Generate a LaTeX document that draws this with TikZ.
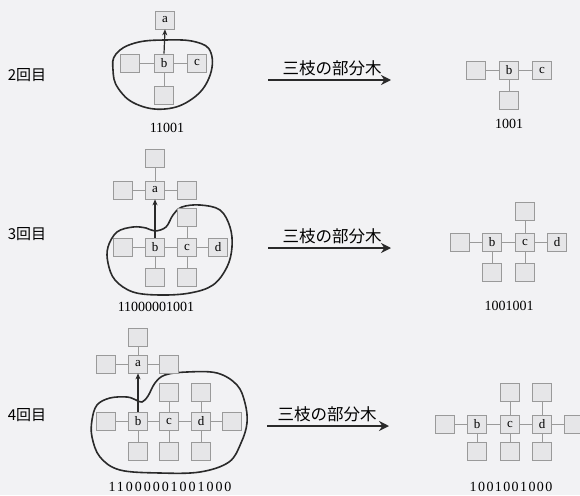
\documentclass[tikz,border=0pt]{standalone}
\usepackage{fontspec}
\setmainfont{Liberation Serif}
\newfontfamily\jpfont{Noto Sans CJK JP}
\usetikzlibrary{arrows.meta}
\definecolor{bgc}{HTML}{F2F2F4}
\definecolor{boxfill}{HTML}{E6E6E8}
\definecolor{boxline}{HTML}{9A9A9A}
\definecolor{inkc}{HTML}{2A2A2A}
\tikzset{
  cell/.style={draw=boxline, fill=boxfill, line width=0.6pt, minimum width=19pt, minimum height=18pt, inner sep=0pt, font=\fontsize{13}{13}\selectfont},
  link/.style={draw=boxline, line width=0.6pt},
  blob/.style={draw=inkc, line width=1.6pt},
  uparrow/.style={draw=inkc, line width=1.2pt, -{Stealth[length=6pt,width=5pt]}},
  bigarrow/.style={draw=inkc, line width=2.6pt, -{Stealth[length=10pt,width=10pt]}},
  code/.style={font=\fontsize{14}{14}\selectfont, inner sep=0pt},
  jp/.style={font=\jpfont\fontsize{16.5}{17}\selectfont, inner sep=0pt},
  rowlabel/.style={font=\jpfont\fontsize{15}{15}\selectfont, inner sep=0pt}
}
\begin{document}
\begin{tikzpicture}[x=1pt,y=-1pt]
\fill[bgc] (0,0) rectangle (580,495);
\useasboundingbox (0,0) rectangle (580,495);

% ---------------- Row 1 ----------------
\node[rowlabel] (l1) at (27,75) {2回目};
\draw[blob] plot[smooth cycle, tension=0.7] coordinates {(116,54) (135,43) (165,40) (196,42) (211,53) (209,78) (192,99) (165,109) (136,104) (118,88) (113,70)};
\node[cell] (r1a) at (165,20) {a};
\node[cell] (r1L) at (130,63) {};
\node[cell] (r1b) at (164,63) {b};
\node[cell] (r1c) at (197,63) {c};
\node[cell] (r1D) at (164,95) {};
\draw[link] (r1L) -- (r1b) (r1b) -- (r1c) (r1b) -- (r1D);
\draw[uparrow] (r1b.north) -- (r1a.south);
\node[code] (n1) at (167,128) {11001};

\node[jp] (t1) at (332,68) {三枝の部分木};
\coordinate (s1) at (268,80);
\coordinate (e1) at (391,80);
\draw[bigarrow] (s1) -- (e1);

\node[cell] (p1L) at (476,70) {};
\node[cell] (p1b) at (509,70) {b};
\node[cell] (p1c) at (542,70) {c};
\node[cell] (p1D) at (509,100) {};
\draw[link] (p1L) -- (p1b) (p1b) -- (p1c) (p1b) -- (p1D);
\node[code] (m1) at (509,124) {1001};

% ---------------- Row 2 ----------------
\node[rowlabel] (l2) at (27,234) {3回目};
\draw[blob] plot[smooth cycle, tension=0.6] coordinates {(108,247) (117,232) (133,227) (146,228) (155,231) (166,227) (173,215) (182,207) (200,205) (220,210) (230,227) (232,247) (227,267) (213,285) (190,293) (160,295) (133,292) (115,280) (108,263)};
\node[cell] (r2T) at (155,158) {};
\node[cell] (r2AL) at (123,190) {};
\node[cell] (r2a) at (155,190) {a};
\node[cell] (r2AR) at (187,190) {};
\node[cell] (r2L) at (123,247) {};
\node[cell] (r2b) at (155,247) {b};
\node[cell] (r2c) at (187,247) {c};
\node[cell] (r2d) at (218,247) {d};
\node[cell] (r2CU) at (187,217) {};
\node[cell] (r2BD) at (155,277) {};
\node[cell] (r2CD) at (187,277) {};
\draw[link] (r2T) -- (r2a) (r2AL) -- (r2a) (r2a) -- (r2AR);
\draw[link] (r2L) -- (r2b) (r2b) -- (r2c) (r2c) -- (r2d) (r2CU) -- (r2c) (r2b) -- (r2BD) (r2c) -- (r2CD);
\draw[uparrow] (r2b.north) -- (r2a.south);
\node[code] (n2) at (156,307) {11000001001};

\node[jp] (t2) at (332,236) {三枝の部分木};
\coordinate (s2) at (268,248);
\coordinate (e2) at (391,248);
\draw[bigarrow] (s2) -- (e2);

\node[cell] (p2CU) at (525,211) {};
\node[cell] (p2L) at (460,242) {};
\node[cell] (p2b) at (492,242) {b};
\node[cell] (p2c) at (525,242) {c};
\node[cell] (p2d) at (557,242) {d};
\node[cell] (p2BD) at (492,272) {};
\node[cell] (p2CD) at (525,272) {};
\draw[link] (p2L) -- (p2b) (p2b) -- (p2c) (p2c) -- (p2d) (p2CU) -- (p2c) (p2b) -- (p2BD) (p2c) -- (p2CD);
\node[code] (m2) at (509,306) {1001001};

% ---------------- Row 3 ----------------
\node[rowlabel] (l3) at (27,415) {4回目};
\draw[blob] plot[smooth cycle, tension=0.6] coordinates {(92,420) (97,405) (110,398) (127,397) (136,400) (142,402) (148,396) (155,383) (165,375) (187,372) (217,373) (237,385) (245,403) (247,423) (241,443) (229,462) (200,472) (160,473) (120,470) (100,457) (92,437)};
\node[cell] (r3T) at (138,337) {};
\node[cell] (r3AL) at (106,364) {};
\node[cell] (r3a) at (138,364) {a};
\node[cell] (r3AR) at (169,364) {};
\node[cell] (r3L) at (106,421) {};
\node[cell] (r3b) at (138,421) {b};
\node[cell] (r3c) at (169,421) {c};
\node[cell] (r3d) at (201,421) {d};
\node[cell] (r3R) at (232,421) {};
\node[cell] (r3CU) at (169,392) {};
\node[cell] (r3DU) at (201,392) {};
\node[cell] (r3BD) at (138,451) {};
\node[cell] (r3CD) at (169,451) {};
\node[cell] (r3DD) at (201,451) {};
\draw[link] (r3T) -- (r3a) (r3AL) -- (r3a) (r3a) -- (r3AR);
\draw[link] (r3L) -- (r3b) (r3b) -- (r3c) (r3c) -- (r3d) (r3d) -- (r3R) (r3CU) -- (r3c) (r3DU) -- (r3d) (r3b) -- (r3BD) (r3c) -- (r3CD) (r3d) -- (r3DD);
\draw[uparrow] (r3b.north) -- (r3a.south);
\node[code] (n3) at (170,487) {\addfontfeature{LetterSpace=14}11000001001000};

\node[jp] (t3) at (327,414) {三枝の部分木};
\coordinate (s3) at (267,426);
\coordinate (e3) at (389,426);
\draw[bigarrow] (s3) -- (e3);

\node[cell] (p3L) at (445,424) {};
\node[cell] (p3b) at (477,424) {b};
\node[cell] (p3c) at (510,424) {c};
\node[cell] (p3d) at (542,424) {d};
\node[cell] (p3R) at (574,424) {};
\node[cell] (p3CU) at (510,392) {};
\node[cell] (p3DU) at (542,392) {};
\node[cell] (p3BD) at (477,451) {};
\node[cell] (p3CD) at (510,451) {};
\node[cell] (p3DD) at (542,451) {};
\draw[link] (p3L) -- (p3b) (p3b) -- (p3c) (p3c) -- (p3d) (p3d) -- (p3R) (p3CU) -- (p3c) (p3DU) -- (p3d) (p3b) -- (p3BD) (p3c) -- (p3CD) (p3d) -- (p3DD);
\node[code] (m3) at (511,487) {\addfontfeature{LetterSpace=10}1001001000};
\end{tikzpicture}
\end{document}
